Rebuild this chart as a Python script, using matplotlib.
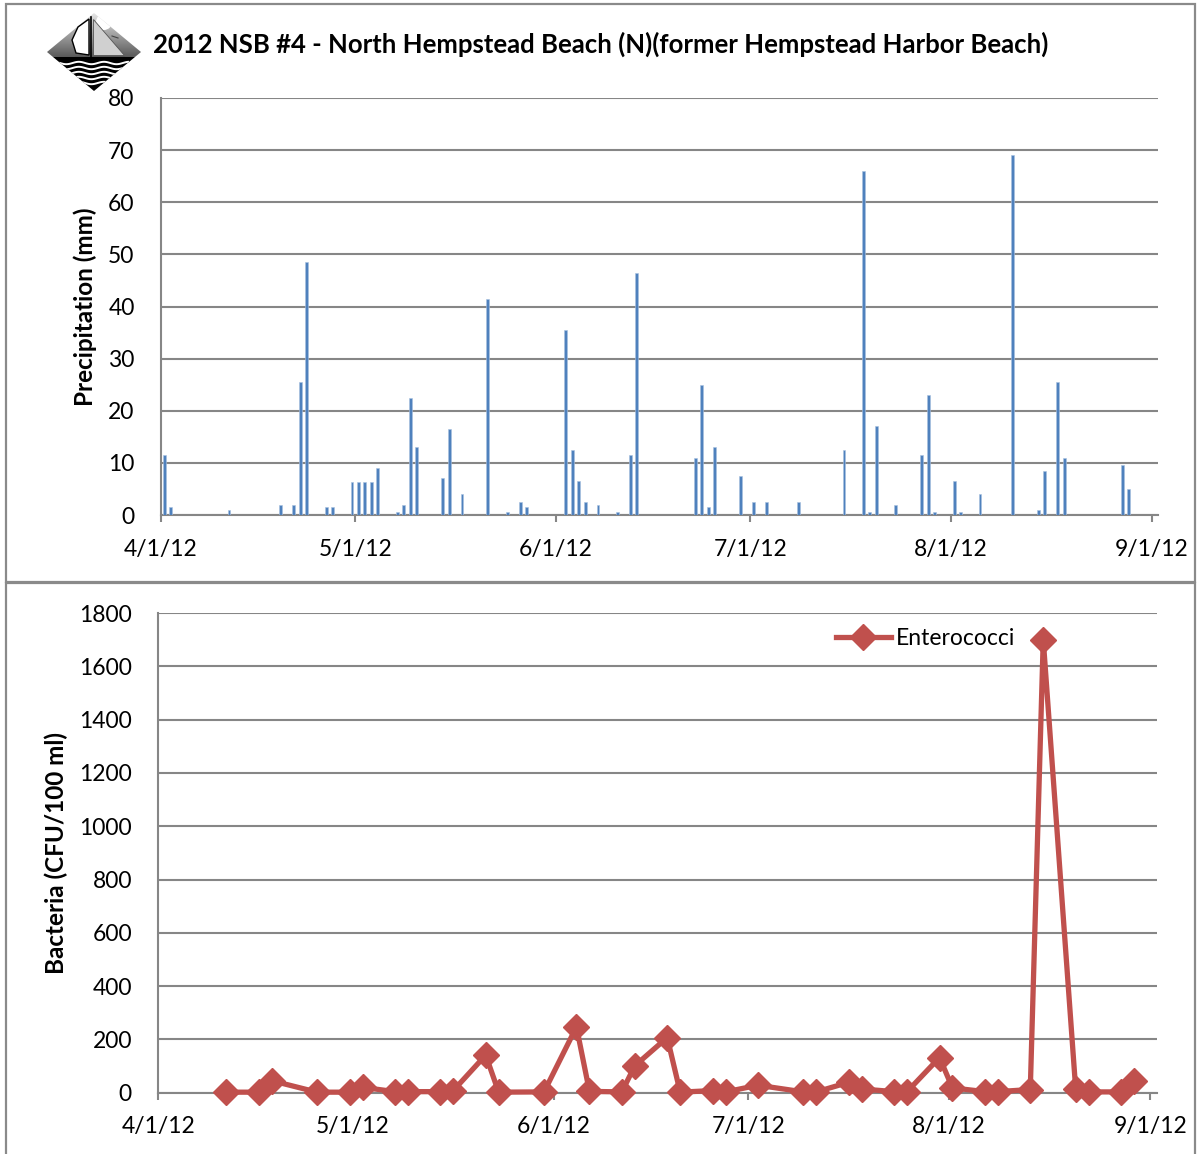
import matplotlib
matplotlib.use('Agg')
import matplotlib.pyplot as plt
import numpy as np
import pandas as pd
from matplotlib.patches import Polygon, Rectangle, Circle

plt.rcParams['font.family'] = ['Lato', 'DejaVu Sans']

# ---------------- data ----------------
title = "2012 NSB #4 - North Hempstead Beach (N)(former Hempstead Harbor Beach)"

precip_dates = ['2012-04-01', '2012-04-02', '2012-04-11', '2012-04-19', '2012-04-21',
                '2012-04-22', '2012-04-23', '2012-04-26', '2012-04-27', '2012-04-30',
                '2012-05-01', '2012-05-02', '2012-05-03', '2012-05-04', '2012-05-07',
                '2012-05-08', '2012-05-09', '2012-05-10', '2012-05-14', '2012-05-15',
                '2012-05-17', '2012-05-21', '2012-05-24', '2012-05-26', '2012-05-27',
                '2012-06-02', '2012-06-03', '2012-06-04', '2012-06-05', '2012-06-07',
                '2012-06-10', '2012-06-12', '2012-06-13', '2012-06-22', '2012-06-23',
                '2012-06-24', '2012-06-25', '2012-06-29', '2012-07-01', '2012-07-03',
                '2012-07-08', '2012-07-15', '2012-07-18', '2012-07-19', '2012-07-20',
                '2012-07-23', '2012-07-27', '2012-07-28', '2012-07-29', '2012-08-01',
                '2012-08-02', '2012-08-05', '2012-08-10', '2012-08-14', '2012-08-15',
                '2012-08-17', '2012-08-18', '2012-08-27', '2012-08-28']
precip_mm = [11.5, 1.5, 1.0, 2.0, 2.0,
             25.5, 48.5, 1.5, 1.5, 6.3,
             6.3, 6.3, 6.3, 9.0, 0.5,
             2.0, 22.5, 13.0, 7.1, 16.5,
             4.0, 41.5, 0.5, 2.5, 1.5,
             35.5, 12.5, 6.5, 2.5, 2.0,
             0.5, 11.5, 46.5, 11.0, 25.0,
             1.5, 13.0, 7.5, 2.5, 2.5,
             2.5, 12.5, 66.0, 0.5, 17.0,
             2.0, 11.5, 23.0, 0.5, 6.5,
             0.5, 4.0, 69.0, 1.0, 8.5,
             25.5, 11.0, 9.5, 5.0]

entero_dates = ['2012-04-11', '2012-04-16', '2012-04-18', '2012-04-25', '2012-04-30',
                '2012-05-02', '2012-05-07', '2012-05-09', '2012-05-14', '2012-05-16',
                '2012-05-21', '2012-05-23', '2012-05-30', '2012-06-04', '2012-06-06',
                '2012-06-11', '2012-06-13', '2012-06-18', '2012-06-20', '2012-06-25',
                '2012-06-27', '2012-07-02', '2012-07-09', '2012-07-11', '2012-07-16',
                '2012-07-18', '2012-07-23', '2012-07-25', '2012-07-30', '2012-08-01',
                '2012-08-06', '2012-08-08', '2012-08-13', '2012-08-15', '2012-08-20',
                '2012-08-22', '2012-08-27', '2012-08-29']
entero_cfu = [2, 2, 45, 2, 2,
              20, 4, 4, 4, 8,
              141, 2, 3, 247, 5,
              3, 101, 207, 2, 8,
              3, 28, 3, 3, 39,
              14, 4, 4, 132, 18,
              4, 4, 12, 1700, 15,
              3, 3, 45]

month_ticks = ['2012-04-01', '2012-05-01', '2012-06-01', '2012-07-01', '2012-08-01', '2012-09-01']
month_labels = ['4/1/12', '5/1/12', '6/1/12', '7/1/12', '8/1/12', '9/1/12']
precip_yticks = [0, 10, 20, 30, 40, 50, 60, 70, 80]
bact_yticks = [0, 200, 400, 600, 800, 1000, 1200, 1400, 1600, 1800]

# ---------------- figure ----------------
W, H = 1201, 1154
fig = plt.figure(figsize=(W / 100, H / 100), dpi=100)

GRID = '#868686'
BLUE = '#4F81BD'
RED = '#C0504D'
FS = 16.5
LFS = 17.5
half_day = pd.Timedelta(hours=12)
xmin, xmax = pd.Timestamp('2012-04-01'), pd.Timestamp('2012-09-02')

# panel frames
fig.add_artist(Rectangle((6 / W, 1 - 582 / H), (1195 - 6) / W, (582 - 4) / H,
                         transform=fig.transFigure, fill=False, ec='#8a8a8a', lw=1.6))
fig.add_artist(Rectangle((6 / W, -0.01), (1195 - 6) / W, 1 - 583 / H + 0.01,
                         transform=fig.transFigure, fill=False, ec='#8a8a8a', lw=1.6))


def style_axes(ax):
    for s in ['top', 'right']:
        ax.spines[s].set_visible(False)
    for s in ['left', 'bottom']:
        ax.spines[s].set_color(GRID)
        ax.spines[s].set_linewidth(1.5)
    ax.yaxis.grid(True, color=GRID, lw=1.5)
    ax.set_axisbelow(True)
    ax.tick_params(axis='y', length=0, pad=19, labelsize=FS)
    ax.tick_params(axis='x', length=5, width=1.5, color=GRID, direction='out', pad=12, labelsize=FS)
    ax.set_xlim(xmin, xmax)
    ax.set_xticks(pd.to_datetime(month_ticks))
    ax.set_xticklabels(month_labels)


# top: precipitation
ax1 = fig.add_axes([161 / W, 1 - 515 / H, 997 / W, 417 / H])
ax1.bar(pd.to_datetime(precip_dates) + half_day, precip_mm, width=0.45, color=BLUE,
        ec='#a9c1e0', lw=0.4, zorder=3)
style_axes(ax1)
ax1.set_ylim(0, 80)
ax1.set_yticks(precip_yticks)
ax1.set_ylabel('Precipitation (mm)', fontsize=LFS, fontweight='bold')
ax1.yaxis.set_label_coords(-0.064, 0.5)

# bottom: bacteria
ax2 = fig.add_axes([158.3 / W, 1 - 1092.7 / H, 998.4 / W, 479.7 / H])
ax2.plot(pd.to_datetime(entero_dates) + half_day, entero_cfu, color=RED, lw=3.8,
         marker='D', ms=13, mec=RED, mfc=RED, label='Enterococci', clip_on=False, zorder=3)
style_axes(ax2)
ax2.set_ylim(0, 1800)
ax2.set_yticks(bact_yticks)
ax2.set_ylabel('Bacteria (CFU/100 ml)', fontsize=LFS, fontweight='bold')
ax2.yaxis.set_label_coords(-0.0905, 0.5)
ax2.legend(loc='center right', bbox_to_anchor=(0.867, 0.946), frameon=False, fontsize=FS,
           handlelength=2.4, handletextpad=0.2, borderaxespad=0)

# title
fig.text(153 / W, 1 - 44 / H, title, fontsize=18.5, fontweight='bold', ha='left', va='center')

# logo (approximation)
lax = fig.add_axes([38 / W, 1 - 102 / H, 112 / W, 94 / H])
lax.set_xlim(38, 150)
lax.set_ylim(102, 8)
lax.axis('off')
dia = [(47, 52), (94, 13), (141, 52), (94, 91)]
clip = Polygon(dia, closed=True, transform=lax.transData, fc='none', ec='none')
lax.add_patch(clip)
grad = np.linspace(0.9, 0.35, 100).reshape(-1, 1)
im = lax.imshow(grad, cmap='gray', vmin=0, vmax=1, extent=(47, 141, 57, 13), aspect='auto', zorder=1)
im.set_clip_path(clip)
lower = Polygon([(40, 57), (150, 57), (150, 95), (40, 95)], closed=True, fc='black', ec='none', zorder=2)
lax.add_patch(lower)
lower.set_clip_path(clip)
sun = Circle((104, 22), 8, fc='white', ec='none', zorder=2)
lax.add_patch(sun)
sun.set_clip_path(clip)
for yy in [63, 68, 73, 78, 83]:
    xs = np.linspace(60, 128, 80)
    ln, = lax.plot(xs, yy + 1.2 * np.sin((xs - 60) / 4.0), color='white', lw=1.4, zorder=3)
    ln.set_clip_path(clip)
sail1 = Polygon([(89, 19), (78, 27), (72, 40), (76, 53), (89, 55)], closed=True,
                fc='white', ec='black', lw=1.0, zorder=4)
lax.add_patch(sail1)
sail2 = Polygon([(93, 19), (93, 55), (124, 55)], closed=True, fc='#d0d0d0', ec='#555555', lw=0.6, zorder=4)
lax.add_patch(sail2)
lax.plot([91, 91], [17, 58], color='black', lw=1.2, zorder=5)
lax.plot([76, 124], [58, 58], color='black', lw=1.5, zorder=5)
lax.plot([112, 118], [36, 38], color='#444444', lw=0.8, zorder=5)

fig.savefig('out.png', dpi=100)
